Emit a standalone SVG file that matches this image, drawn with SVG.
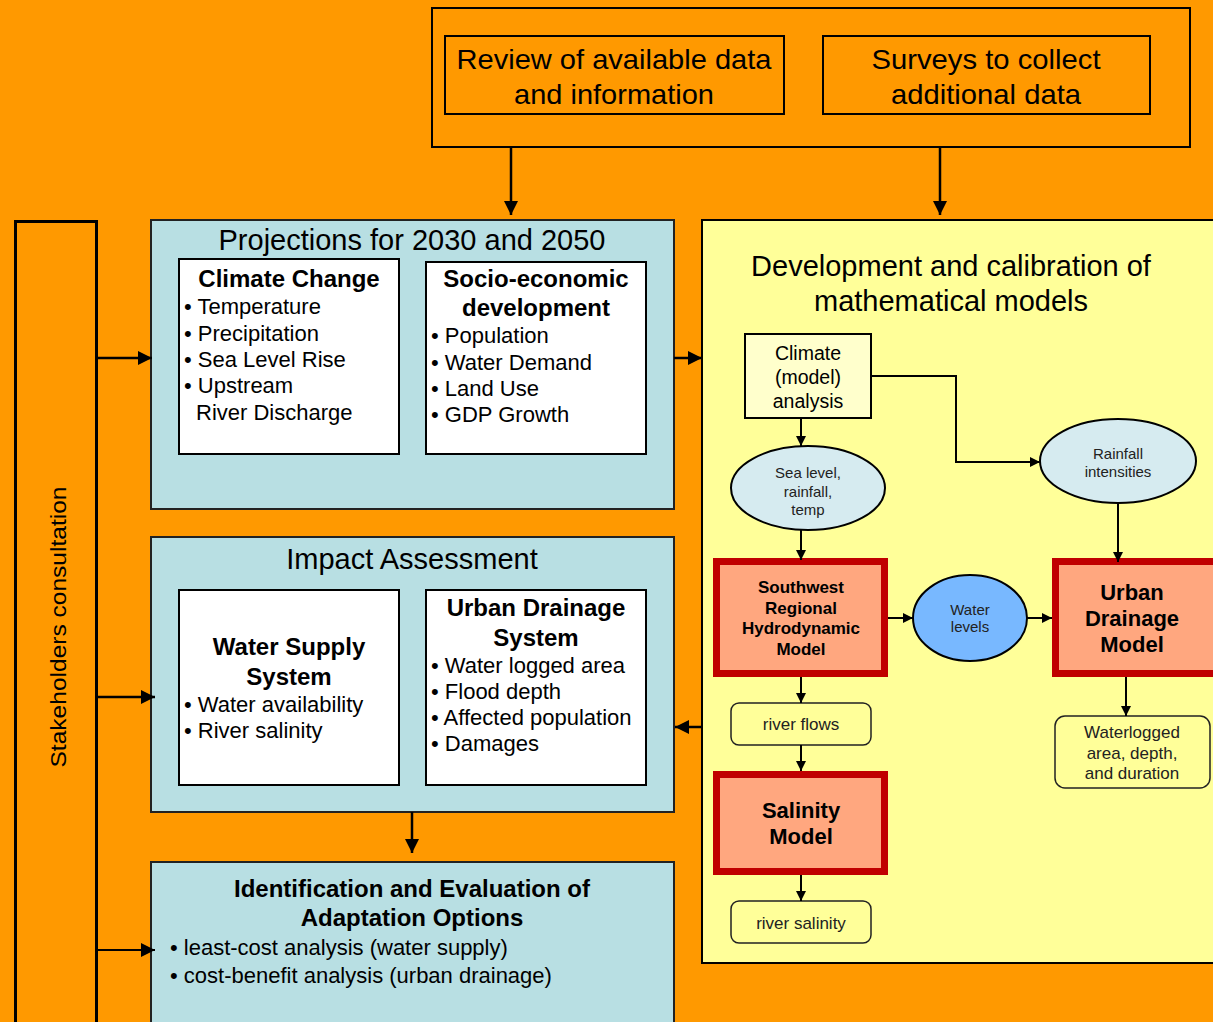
<svg xmlns="http://www.w3.org/2000/svg" width="1213" height="1022" viewBox="0 0 1213 1022">
<defs>
<marker id="ah" markerUnits="userSpaceOnUse" markerWidth="16" markerHeight="14" refX="14" refY="7" orient="auto">
<path d="M0,0 L14,7 L0,14 Z" fill="#000"/>
</marker>
<marker id="ahs" markerUnits="userSpaceOnUse" markerWidth="12" markerHeight="12" refX="10" refY="5" orient="auto">
<path d="M0,0 L10,5 L0,10 Z" fill="#000"/>
</marker>
</defs>
<style>
text{font-family:"Liberation Sans",Arial,sans-serif;fill:#000}
.big{font-size:29px;text-anchor:middle}
.top{font-size:28px;text-anchor:middle}
.hd{font-size:24px;font-weight:bold;text-anchor:middle}
.bl{font-size:22px}
.blue{fill:#B8DFE3;stroke:#222;stroke-width:2}
.wht{fill:#fff;stroke:#000;stroke-width:2}
.mdl{fill:#FFA77F;stroke:#C00000;stroke-width:7}
.sm{font-size:15px;text-anchor:middle;fill:#222}
.md{font-size:17px;text-anchor:middle;fill:#222}
.mb{font-size:17px;font-weight:bold;text-anchor:middle}
.lb{font-size:22px;font-weight:bold;text-anchor:middle}
.ell{fill:#D6EBF0;stroke:#000;stroke-width:2}
.rnd{fill:#FFFF99;stroke:#222;stroke-width:1.5}
.c{fill:none;stroke:#000;stroke-width:2.5}
.cs{fill:none;stroke:#000;stroke-width:2}
</style>
<rect x="0" y="0" width="1213" height="1022" fill="#FF9900"/>

<g id="data-collection">
<rect x="432" y="8" width="758" height="139" fill="none" stroke="#000" stroke-width="2"/>
<g id="review">
<rect x="445" y="36" width="339" height="78" fill="none" stroke="#000" stroke-width="2"/>
<text class="top" x="614" y="69" textLength="315" lengthAdjust="spacingAndGlyphs">Review of available data</text>
<text class="top" x="614" y="104" textLength="200" lengthAdjust="spacingAndGlyphs">and information</text>
</g>
<g id="surveys">
<rect x="823" y="36" width="327" height="78" fill="none" stroke="#000" stroke-width="2"/>
<text class="top" x="986" y="69" textLength="229" lengthAdjust="spacingAndGlyphs">Surveys to collect</text>
<text class="top" x="986" y="104" textLength="190" lengthAdjust="spacingAndGlyphs">additional data</text>
</g>
</g>

<g id="stakeholders">
<rect x="15.5" y="221.5" width="81" height="810" fill="none" stroke="#000" stroke-width="3"/>
<text transform="translate(66,627) rotate(-90)" font-size="22" text-anchor="middle" textLength="281" lengthAdjust="spacingAndGlyphs">Stakeholders consultation</text>
</g>

<g id="projections">
<rect class="blue" x="151" y="220" width="523" height="289"/>
<text class="big" x="412" y="250">Projections for 2030 and 2050</text>
<g id="climate-change">
<rect class="wht" x="179" y="259" width="220" height="195"/>
<text class="hd" x="289" y="287">Climate Change</text>
<text class="bl" x="184" y="314">• Temperature</text>
<text class="bl" x="184" y="341">• Precipitation</text>
<text class="bl" x="184" y="367">• Sea Level Rise</text>
<text class="bl" x="184" y="393">• Upstream</text>
<text class="bl" x="196" y="420">River Discharge</text>
</g>
<g id="socio-economic">
<rect class="wht" x="426" y="262" width="220" height="192"/>
<text class="hd" x="536" y="287">Socio-economic</text>
<text class="hd" x="536" y="316">development</text>
<text class="bl" x="431" y="343">• Population</text>
<text class="bl" x="431" y="370">• Water Demand</text>
<text class="bl" x="431" y="396">• Land Use</text>
<text class="bl" x="431" y="422">• GDP Growth</text>
</g>
</g>

<g id="impact">
<rect class="blue" x="151" y="537" width="523" height="275"/>
<text class="big" x="412" y="569">Impact Assessment</text>
<g id="water-supply">
<rect class="wht" x="179" y="590" width="220" height="195"/>
<text class="hd" x="289" y="655">Water Supply</text>
<text class="hd" x="289" y="685">System</text>
<text class="bl" x="184" y="712">• Water availability</text>
<text class="bl" x="184" y="738">• River salinity</text>
</g>
<g id="urban-drainage-system">
<rect class="wht" x="426" y="590" width="220" height="195"/>
<text class="hd" x="536" y="616">Urban Drainage</text>
<text class="hd" x="536" y="646">System</text>
<text class="bl" x="431" y="673">• Water logged area</text>
<text class="bl" x="431" y="699">• Flood depth</text>
<text class="bl" x="431" y="725">• Affected population</text>
<text class="bl" x="431" y="751">• Damages</text>
</g>
</g>

<g id="adaptation">
<rect class="blue" x="151" y="862" width="523" height="180"/>
<text class="hd" x="412" y="897">Identification and Evaluation of</text>
<text class="hd" x="412" y="926">Adaptation Options</text>
<text class="bl" x="170" y="955">• least-cost analysis (water supply)</text>
<text class="bl" x="170" y="983">• cost-benefit analysis (urban drainage)</text>
</g>

<g id="models">
<rect x="702" y="220" width="530" height="743" fill="#FFFF99" stroke="#000" stroke-width="2"/>
<text class="big" x="951" y="276">Development and calibration of</text>
<text class="big" x="951" y="311">mathematical models</text>
</g>
<g id="climate-analysis">
<rect x="745" y="334" width="126" height="84" fill="#FFFFCC" stroke="#000" stroke-width="2"/>
<text font-size="19.5" text-anchor="middle" x="808" y="360">Climate</text>
<text font-size="19.5" text-anchor="middle" x="808" y="384">(model)</text>
<text font-size="19.5" text-anchor="middle" x="808" y="408">analysis</text>
</g>
<g id="sea-level">
<ellipse class="ell" cx="808" cy="488" rx="77" ry="42"/>
<text class="sm" x="808" y="478">Sea level,</text>
<text class="sm" x="808" y="497">rainfall,</text>
<text class="sm" x="808" y="515">temp</text>
</g>
<g id="rainfall">
<ellipse class="ell" cx="1118" cy="461" rx="78" ry="42"/>
<text class="sm" x="1118" y="459">Rainfall</text>
<text class="sm" x="1118" y="477">intensities</text>
</g>
<g id="sw-model">
<rect class="mdl" x="716.5" y="561.5" width="168" height="112"/>
<text class="mb" x="801" y="593">Southwest</text>
<text class="mb" x="801" y="614">Regional</text>
<text class="mb" x="801" y="634">Hydrodynamic</text>
<text class="mb" x="801" y="655">Model</text>
</g>
<g id="water-levels">
<ellipse cx="970" cy="618" rx="57" ry="43" fill="#78B8FF" stroke="#000" stroke-width="2"/>
<text class="sm" x="970" y="615">Water</text>
<text class="sm" x="970" y="632">levels</text>
</g>
<g id="urban-model">
<rect class="mdl" x="1055.5" y="561.5" width="168" height="112"/>
<text class="lb" x="1132" y="600">Urban</text>
<text class="lb" x="1132" y="626">Drainage</text>
<text class="lb" x="1132" y="652">Model</text>
</g>
<g id="waterlogged">
<rect class="rnd" x="1055" y="716" width="155" height="72" rx="10"/>
<text class="md" x="1132" y="738">Waterlogged</text>
<text class="md" x="1132" y="759">area, depth,</text>
<text class="md" x="1132" y="779">and duration</text>
</g>
<g id="river-flows">
<rect class="rnd" x="731" y="703" width="140" height="42" rx="8"/>
<text class="md" x="801" y="730">river flows</text>
</g>
<g id="salinity-model">
<rect class="mdl" x="716.5" y="774.5" width="168" height="97"/>
<text class="lb" x="801" y="818">Salinity</text>
<text class="lb" x="801" y="844">Model</text>
</g>
<g id="river-salinity">
<rect class="rnd" x="731" y="901" width="140" height="42" rx="8"/>
<text class="md" x="801" y="929">river salinity</text>
</g>

<g id="connectors">
<path class="c" d="M511,147 V215" marker-end="url(#ah)"/>
<path class="c" d="M940,147 V215" marker-end="url(#ah)"/>
<path class="c" d="M97,358 H152" marker-end="url(#ah)"/>
<path class="c" d="M97,697 H155" marker-end="url(#ah)"/>
<path class="cs" d="M97,950 H155" marker-end="url(#ah)"/>
<path class="c" d="M674,358 H702" marker-end="url(#ah)"/>
<path class="c" d="M702,727 H675" marker-end="url(#ah)"/>
<path class="c" d="M412,812 V853" marker-end="url(#ah)"/>
<path class="cs" d="M801,418 V446" marker-end="url(#ahs)"/>
<path class="cs" d="M871,376 H956 V462 H1040" marker-end="url(#ahs)"/>
<path class="cs" d="M1118,503 V562" marker-end="url(#ahs)"/>
<path class="cs" d="M801,530 V560" marker-end="url(#ahs)"/>
<path class="cs" d="M888,618 H913" marker-end="url(#ahs)"/>
<path class="cs" d="M1027,618 H1052" marker-end="url(#ahs)"/>
<path class="cs" d="M1126,677 V716" marker-end="url(#ahs)"/>
<path class="cs" d="M801,677 V703" marker-end="url(#ahs)"/>
<path class="cs" d="M801,745 V771" marker-end="url(#ahs)"/>
<path class="cs" d="M801,875 V901" marker-end="url(#ahs)"/>
</g>
</svg>
